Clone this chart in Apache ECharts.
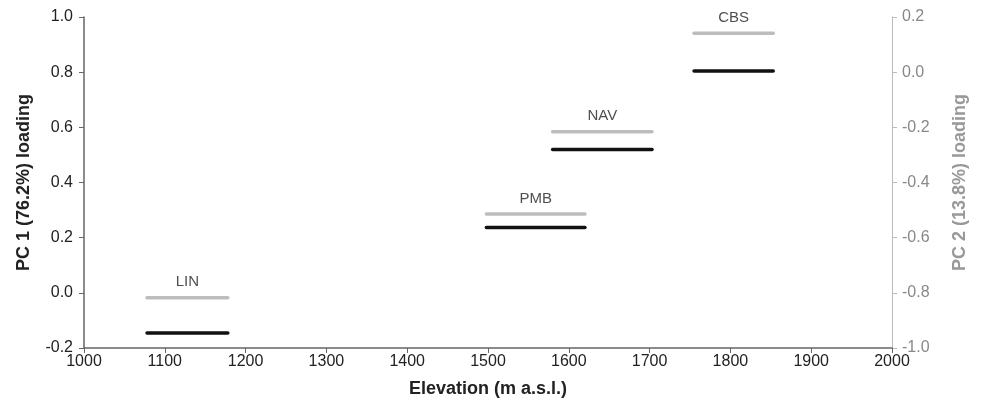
<!DOCTYPE html>
<html>
<head>
<meta charset="utf-8">
<script src="https://cdn.jsdelivr.net/npm/echarts@6/dist/echarts.min.js"></script>
<style>
  html, body { margin: 0; padding: 0; background: #fff; }
  #chart { width: 981px; height: 407px; }
</style>
</head>
<body>
<div id="chart"></div>
<script>
// site segments along the elevation axis
const sites = ['LIN', 'PMB', 'NAV', 'CBS']
const elevFrom = [1078, 1498, 1580, 1755]
const elevTo = [1178, 1620, 1703, 1853]
// loadings
const pc1 = [-0.146, 0.237, 0.52, 0.804]
const pc2 = [-0.818, -0.514, -0.216, 0.141]

const FONT = 'Liberation Sans, Arial, sans-serif'
const BLACK = '#111111'
const GREY = '#bdbdbd'

const series = []
sites.forEach((s, i) => {
  // PC 1 (left axis)
  series.push({
    type: 'line',
    yAxisIndex: 0,
    data: [[elevFrom[i], pc1[i]], [elevTo[i], pc1[i]]],
    showSymbol: false,
    lineStyle: { color: BLACK, width: 3.5, cap: 'round' },
    silent: true,
    z: 3
  })
  // PC 2 (right axis)
  series.push({
    type: 'line',
    yAxisIndex: 1,
    data: [[elevFrom[i], pc2[i]], [elevTo[i], pc2[i]]],
    showSymbol: false,
    lineStyle: { color: GREY, width: 3.5, cap: 'round' },
    silent: true,
    z: 2
  })
})

// site names above the grey segments
series.push({
  type: 'scatter',
  yAxisIndex: 1,
  symbolSize: 0,
  silent: true,
  data: sites.map((s, i) => [(elevFrom[i] + elevTo[i]) / 2, pc2[i]]),
  label: {
    show: true,
    position: 'top',
    distance: 8,
    color: '#222',
    fontFamily: FONT,
    fontSize: 15,
    formatter: (p) => sites[p.dataIndex]
  }
})

const chart = echarts.init(document.getElementById('chart'))
chart.setOption({
  animation: false,
  grid: { left: 84, right: 89, top: 17, bottom: 59 },
  xAxis: {
    type: 'value',
    min: 1000,
    max: 2000,
    interval: 100,
    name: 'Elevation (m a.s.l.)',
    nameLocation: 'middle',
    nameGap: 32,
    nameTextStyle: { fontFamily: FONT, fontSize: 18, fontWeight: 'bold', color: '#222' },
    axisLine: { onZero: false, lineStyle: { color: '#666', width: 1.5 } },
    axisTick: { show: true, length: 5, lineStyle: { color: '#666' } },
    axisLabel: { color: '#222', fontFamily: FONT, fontSize: 16, margin: 6, formatter: (v) => String(v) },
    splitLine: { show: false }
  },
  yAxis: [
    {
      type: 'value',
      min: -0.2,
      max: 1.0,
      interval: 0.2,
      name: 'PC 1 (76.2%) loading',
      nameLocation: 'middle',
      nameGap: 51,
      nameTextStyle: { fontFamily: FONT, fontSize: 18, fontWeight: 'bold', color: '#222' },
      axisLine: { show: true, onZero: false, lineStyle: { color: '#666', width: 1.5 } },
      axisTick: { show: true, length: 5, lineStyle: { color: '#666' } },
      axisLabel: { color: '#222', fontFamily: FONT, fontSize: 16, margin: 11, formatter: (v) => v.toFixed(1) },
      splitLine: { show: false }
    },
    {
      type: 'value',
      min: -1.0,
      max: 0.2,
      interval: 0.2,
      position: 'right',
      name: 'PC 2 (13.8%) loading',
      nameLocation: 'middle',
      nameGap: 59,
      nameRotate: 90,
      nameTextStyle: { fontFamily: FONT, fontSize: 18, fontWeight: 'bold', color: '#999' },
      axisLine: { show: true, onZero: false, lineStyle: { color: '#bbb', width: 1 } },
      axisTick: { show: true, length: 5, lineStyle: { color: '#bbb' } },
      axisLabel: { color: '#888', fontFamily: FONT, fontSize: 16, margin: 10, formatter: (v) => v.toFixed(1) },
      splitLine: { show: false }
    }
  ],
  series: series
})
</script>
</body>
</html>
